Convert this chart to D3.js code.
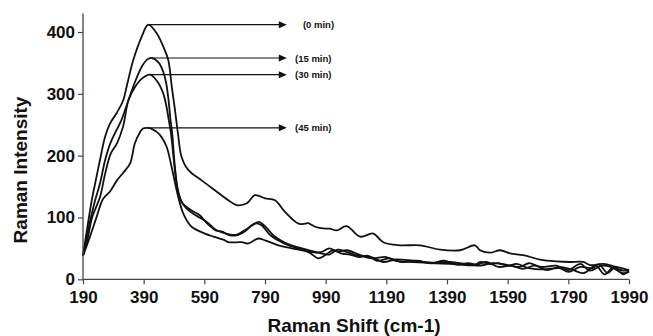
<!DOCTYPE html>
<html>
<head>
<meta charset="utf-8">
<script src="https://cdn.jsdelivr.net/npm/d3@7"></script>
<style>
  html, body { margin: 0; padding: 0; background: #fff; }
  svg { display: block; font-family: "Liberation Sans", Arial, sans-serif; }
</style>
</head>
<body>
<svg id="chart" width="653" height="336"></svg>
<script>
// ---------- data ----------
const xTicks = [190, 390, 590, 790, 990, 1190, 1390, 1590, 1790, 1990];
const yTicks = [0, 100, 200, 300, 400];

const seriesNames = ["(0 min)", "(15 min)", "(30 min)", "(45 min)"];

const shift0 = [190,203,219,230,246,263,279,301,323,334,356,384,405,433,455,471,483,493,503,515,537,581,625,669,697,730,757,790,823,856,900,922,932,955,988,1004,1026,1059,1103,1147,1180,1235,1301,1367,1433,1482,1499,1532,1565,1598,1642,1697,1752,1796,1839,1862,1905,1949,1990];
const int0   = [38,80,128,155,193,231,252,269,290,312,355,393,412,398,376,355,310,275,236,198,177,160,144,128,120,123,136,131,128,109,90,90,91,85,82,82,79,86,69,74,60,55,55,48,47,55,47,43,47,42,39,32,29,28,28,23,25,20,15];

const shift15 = [190,203,216,230,246,263,280,295,317,340,362,385,400,417,440,455,464,472,478,484,493,503,518,546,574,600,628,649,669,695,722,755,777,808,853,897,942,975,1002,1030,1060,1100,1140,1190,1220,1280,1350,1400,1480,1500,1530,1560,1590,1620,1660,1710,1760,1790,1830,1870,1890,1920,1940,1970,1990];
const int15   = [38,70,100,128,155,193,220,236,258,290,320,345,355,358,350,335,318,290,260,236,182,144,123,112,104,90,79,77,72,71,77,90,88,71,58,50,44,44,50,45,47,40,34,36,30,28,26,25,23,28,25,26,22,25,18,16,18,12,20,18,24,10,18,14,15];

const shift30 = [190,205,220,246,263,282,302,322,340,360,385,411,435,455,465,472,480,490,500,510,530,560,600,628,649,669,695,722,750,770,790,820,853,897,942,975,1002,1030,1060,1100,1140,1180,1220,1280,1350,1400,1460,1500,1540,1580,1630,1660,1700,1750,1790,1830,1860,1900,1930,1970,1990];
const int30   = [38,65,100,133,171,204,220,247,290,310,325,331,320,300,280,260,236,190,150,130,115,104,92,80,76,73,72,79,88,93,86,70,60,52,46,42,40,48,44,38,36,28,32,30,27,28,24,22,26,24,20,26,20,22,15,25,14,22,20,10,12];

const shift45 = [190,213,235,256,279,302,322,345,361,378,388,404,418,434,449,466,482,504,521,548,592,620,658,669,713,735,768,790,834,878,933,966,988,1015,1040,1070,1100,1130,1160,1200,1240,1290,1340,1380,1420,1460,1490,1520,1560,1600,1640,1680,1720,1760,1800,1840,1880,1910,1940,1970,1990];
const int45   = [38,69,101,130,142,160,172,187,220,238,244,245,243,238,230,214,182,133,106,85,74,69,63,60,60,58,66,63,55,50,44,34,39,47,42,40,36,38,30,34,28,30,26,30,24,26,24,28,20,22,17,22,15,20,16,10,22,8,20,8,14];

// annotation arrows (data coordinates)
const arrowY      = [412, 358, 331, 245];
const arrowStartX = [404, 424, 411, 404];
const arrowEndX   = 862;
const labelX      = [915, 889, 889, 889];

// ---------- chart ----------
const svg = d3.select("#chart");
const x = d3.scaleLinear().domain([190, 1990]).range([83, 629]);
const y = d3.scaleLinear().domain([0, 430]).range([279.3, 13.5]);

const series = [
  {s: shift0, v: int0},
  {s: shift15, v: int15},
  {s: shift30, v: int30},
  {s: shift45, v: int45}
].map(d => d.s.map((sv, i) => [sv, d.v[i]]));

const line = d3.line()
  .x(d => x(d[0]))
  .y(d => y(d[1]))
  .curve(d3.curveCatmullRom.alpha(0.5));

svg.append("g")
  .selectAll("path")
  .data(series)
  .join("path")
  .attr("d", line)
  .attr("fill", "none")
  .attr("stroke", "#111")
  .attr("stroke-width", 1.8)
  .attr("stroke-linejoin", "round");

// axes
const xAxis = svg.append("g")
  .attr("transform", `translate(0,${y(0)})`)
  .call(d3.axisBottom(x).tickValues(xTicks).tickSize(5).tickPadding(7).tickFormat(d3.format("d")));
const yAxis = svg.append("g")
  .attr("transform", `translate(${x(190)},0)`)
  .call(d3.axisLeft(y).tickValues(yTicks).tickSize(5).tickPadding(3).tickFormat(d3.format("d")));

[xAxis, yAxis].forEach(g => {
  g.select(".domain").attr("stroke", "#444").attr("stroke-width", 1.3);
  g.selectAll(".tick line").attr("stroke", "#444").attr("stroke-width", 1.2);
  g.selectAll(".tick text")
    .attr("fill", "#111")
    .style("font-size", "17px")
    .style("font-weight", "bold")
    .style("font-family", "'Liberation Sans', Arial, sans-serif");
});
yAxis.select(".domain").attr("d", `M0,${y(430)}V${y(0)}`);
xAxis.select(".domain").attr("d", `M${x(190)},0H${x(1990)}`);

// axis titles
svg.append("text")
  .attr("x", 354).attr("y", 332)
  .attr("text-anchor", "middle")
  .style("font-size", "19px").style("font-weight", "bold").attr("fill", "#111")
  .text("Raman Shift (cm-1)");

svg.append("text")
  .attr("transform", "translate(27,170) rotate(-90)")
  .attr("text-anchor", "middle")
  .style("font-size", "19px").style("font-weight", "bold").attr("fill", "#111")
  .text("Raman Intensity");

// annotation arrows
const ann = svg.append("g");
seriesNames.forEach((name, i) => {
  const yy = y(arrowY[i]);
  const x0 = x(arrowStartX[i]);
  const x1 = x(arrowEndX);
  ann.append("line")
    .attr("x1", x0).attr("y1", yy).attr("x2", x1 - 6).attr("y2", yy)
    .attr("stroke", "#111").attr("stroke-width", 1.2);
  ann.append("path")
    .attr("d", `M${x1},${yy}L${x1 - 8},${yy - 3.5}L${x1 - 8},${yy + 3.5}Z`)
    .attr("fill", "#111");
  ann.append("text")
    .attr("x", x(labelX[i])).attr("y", yy + 3.5)
    .style("font-size", "9.5px").style("font-weight", "bold").attr("fill", "#111")
    .text(name);
});
</script>
</body>
</html>
